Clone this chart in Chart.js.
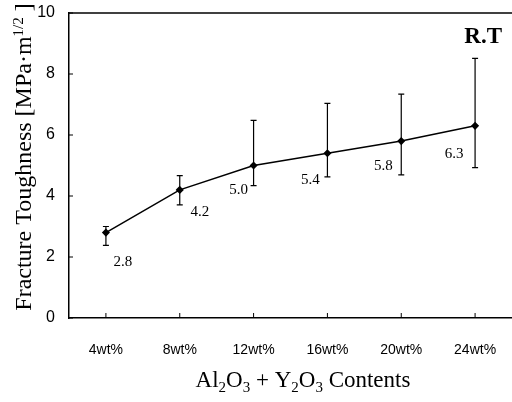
<!DOCTYPE html>
<html>
<head>
<meta charset="utf-8">
<script src="https://cdn.jsdelivr.net/npm/chart.js@4"></script>
<style>
  html, body { margin: 0; padding: 0; background: #fff; }
  #wrap { width: 512px; height: 402px; }
</style>
</head>
<body>
<div id="wrap"><canvas id="toughChart"></canvas></div>
<script>
// data
var contents = ['4wt%', '8wt%', '12wt%', '16wt%', '20wt%', '24wt%'];
var toughness = [2.8, 4.2, 5.0, 5.4, 5.8, 6.3];
var errHigh = [3.0, 4.67, 6.48, 7.04, 7.34, 8.51];
var errLow = [2.38, 3.71, 4.34, 4.63, 4.69, 4.93];
var valueLabels = ['2.8', '4.2', '5.0', '5.4', '5.8', '6.3'];
// label offsets from the point (px)
var labelDx = [17, 20, -15, -17, -18, -21];
var labelDy = [29, 22, 25, 27, 25, 28];

var serif = '"Liberation Serif", "Times New Roman", serif';
var sans = '"Liberation Sans", Arial, sans-serif';

var decorPlugin = {
    id: 'decor',
    afterDatasetsDraw: function (chart) {
        var ctx = chart.ctx;
        var area = chart.chartArea;
        var x = chart.scales.x;
        var y = chart.scales.y;
        ctx.save();
        ctx.strokeStyle = '#000';
        ctx.fillStyle = '#000';

        // top frame line
        ctx.lineWidth = 1.5;
        ctx.beginPath();
        ctx.moveTo(area.left, area.top);
        ctx.lineTo(512, area.top);
        ctx.stroke();

        // inward tick marks
        ctx.lineWidth = 1;
        y.ticks.forEach(function (t, i) {
            var py = y.getPixelForTick(i);
            ctx.beginPath();
            ctx.moveTo(area.left, py);
            ctx.lineTo(area.left + 4, py);
            ctx.stroke();
        });
        contents.forEach(function (c, i) {
            var px = x.getPixelForValue(i);
            ctx.beginPath();
            ctx.moveTo(px, area.bottom);
            ctx.lineTo(px, area.bottom - 5);
            ctx.stroke();
        });

        // error bars
        ctx.lineWidth = 1.2;
        toughness.forEach(function (v, i) {
            var px = x.getPixelForValue(i);
            var top = y.getPixelForValue(errHigh[i]);
            var bot = y.getPixelForValue(errLow[i]);
            ctx.beginPath();
            ctx.moveTo(px, top);
            ctx.lineTo(px, bot);
            ctx.moveTo(px - 3, top);
            ctx.lineTo(px + 3, top);
            ctx.moveTo(px - 3, bot);
            ctx.lineTo(px + 3, bot);
            ctx.stroke();
        });

        // value labels
        ctx.font = '15px ' + serif;
        ctx.textAlign = 'center';
        ctx.textBaseline = 'middle';
        toughness.forEach(function (v, i) {
            var px = x.getPixelForValue(i);
            var py = y.getPixelForValue(v);
            ctx.fillText(valueLabels[i], px + labelDx[i], py + labelDy[i]);
        });

        // R.T
        ctx.font = 'bold 23px ' + serif;
        ctx.textAlign = 'right';
        ctx.textBaseline = 'alphabetic';
        ctx.fillText('R.T', 502, 43);

        // x title with subscripts
        var parts = [['Al', 0], ['2', 1], ['O', 0], ['3', 1], [' + Y', 0], ['2', 1], ['O', 0], ['3', 1], [' Contents', 0]];
        var bigF = '23px ' + serif;
        var smallF = '15px ' + serif;
        var total = 0;
        parts.forEach(function (p) {
            ctx.font = p[1] ? smallF : bigF;
            total += ctx.measureText(p[0]).width;
        });
        var cx = 303 - total / 2;
        ctx.textAlign = 'left';
        parts.forEach(function (p) {
            ctx.font = p[1] ? smallF : bigF;
            ctx.fillText(p[0], cx, p[1] ? 392 : 387);
            cx += ctx.measureText(p[0]).width;
        });

        // y title with superscript, rotated
        var bigY = '24px ' + serif;
        var smallY = '15px ' + serif;
        ctx.translate(31, 157);
        ctx.rotate(-Math.PI / 2);
        var yParts = [['Fracture Toughness [MPa\u00b7m', 0], ['1/2', 1], [' ]', 0]];
        total = 0;
        yParts.forEach(function (p) {
            ctx.font = p[1] ? smallY : bigY;
            total += ctx.measureText(p[0]).width;
        });
        cx = -total / 2;
        yParts.forEach(function (p) {
            ctx.font = p[1] ? smallY : bigY;
            ctx.fillText(p[0], cx, p[1] ? -8 : 0);
            cx += ctx.measureText(p[0]).width;
        });
        ctx.restore();
    }
};

var chartCtx = document.getElementById('toughChart').getContext('2d');
var toughChart = new Chart(chartCtx, {
    type: 'line',
    data: {
        labels: contents,
        datasets: [{
            label: 'Fracture Toughness',
            data: toughness,
            borderColor: '#000',
            backgroundColor: '#000',
            borderWidth: 1.5,
            pointStyle: 'rectRot',
            pointRadius: 3,
            tension: 0,
            clip: false
        }]
    },
    options: {
        responsive: true,
        maintainAspectRatio: false,
        animation: false,
        layout: { autoPadding: false, padding: { top: 13, right: -6, left: 0, bottom: 0 } },
        plugins: {
            legend: { display: false },
            tooltip: { enabled: false }
        },
        scales: {
            x: {
                offset: true,
                grid: { display: false, drawTicks: false },
                border: { display: true, color: '#000', width: 1.5 },
                ticks: { color: '#000', font: { family: sans, size: 14 }, padding: 24, maxRotation: 0 },
                afterFit: function (scale) {
                    scale.height = 84;
                    scale.paddingLeft = 0;
                    scale.paddingRight = 0;
                }
            },
            y: {
                min: 0,
                max: 10,
                grid: { display: false, drawTicks: false },
                border: { display: true, color: '#000', width: 1.5 },
                ticks: { stepSize: 2, color: '#000', font: { family: sans, size: 16 }, padding: 14 },
                afterFit: function (scale) {
                    scale.width = 69;
                    scale.paddingTop = 0;
                    scale.paddingBottom = 0;
                }
            }
        }
    },
    plugins: [decorPlugin]
});
</script>
</body>
</html>
